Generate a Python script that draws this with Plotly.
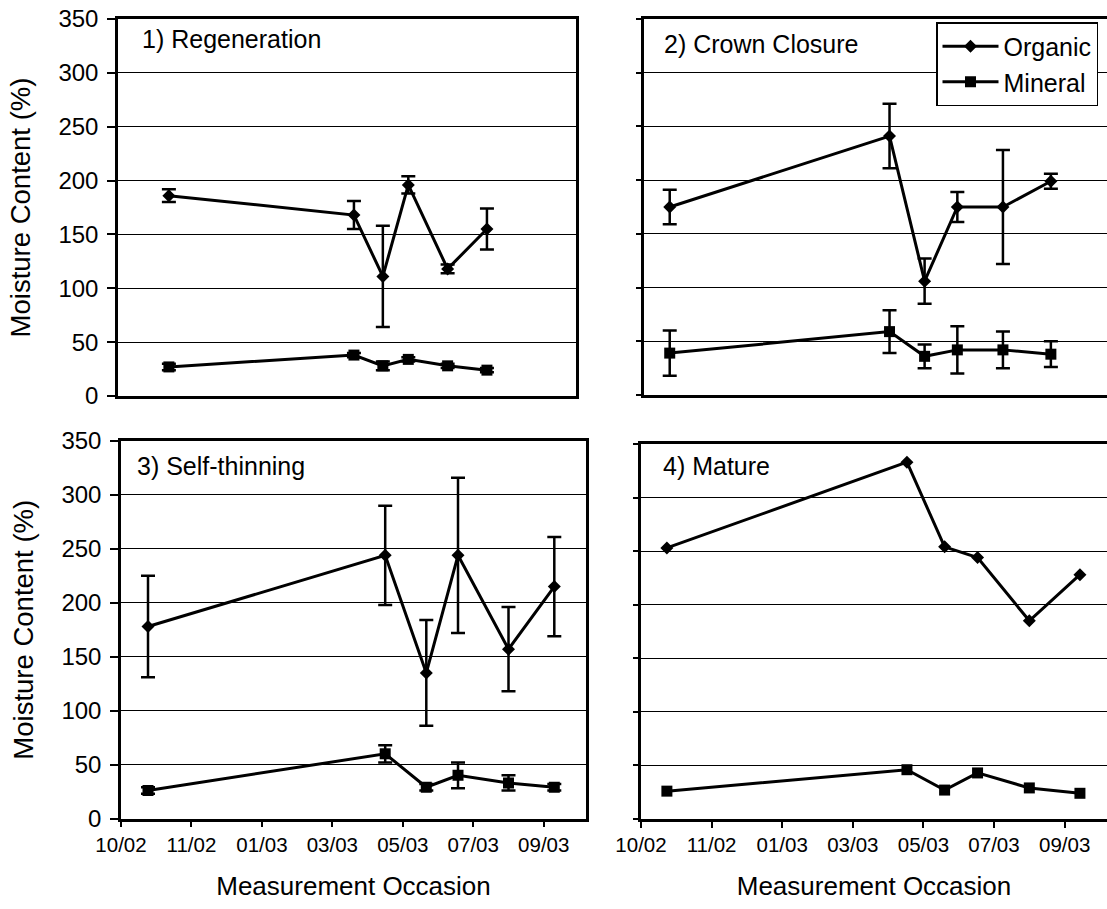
import plotly.graph_objects as go

W, H = 1107, 909

# Measurement dates and moisture content (%) for the four stand stages
p1_dates = ["2002-11-14", "2003-04-23", "2003-05-18", "2003-06-09", "2003-07-13", "2003-08-16"]
p1_org = [186, 168, 111, 196, 118, 155]
p1_org_err = [6, 13, 47, 8, 4, 19]
p1_min = [27, 38, 28, 34, 28, 24]
p1_min_err = [3, 2, 4, 2, 2, 2]

p2_dates = ["2002-10-23", "2003-04-29", "2003-05-29", "2003-06-26", "2003-08-04", "2003-09-14"]
p2_org = [175, 241, 106, 175, 175, 199]
p2_org_err = [16, 30, 21, 14, 53, 7]
p2_min = [39, 59, 36, 42, 42, 38]
p2_min_err = [21, 20, 11, 22, 17, 12]

p3_dates = ["2002-10-24", "2003-05-14", "2003-06-18", "2003-07-15", "2003-08-27", "2003-10-05"]
p3_org = [178, 244, 135, 244, 157, 215]
p3_org_err = [47, 46, 49, 72, 39, 46]
p3_min = [26, 60, 29, 40, 33, 29]
p3_min_err = [3, 8, 3, 12, 7, 3]

p4_dates = ["2002-10-23", "2003-05-15", "2003-06-16", "2003-07-14", "2003-08-27", "2003-10-09"]
p4_org = [253, 333, 254, 244, 185, 228]
p4_min = [26, 46, 27, 43, 29, 24]

panel_titles = ["1) Regeneration", "2) Crown Closure", "3) Self-thinning", "4) Mature"]
series_names = ["Organic", "Mineral"]
x_title = "Measurement Occasion"
y_title = "Moisture Content (%)"

FONT = "Liberation Sans, Arial, sans-serif"

# panel boxes in pixels: (left, right, top, bottom)
boxes = [(118, 576, 19, 396), (644, 1107, 19, 395), (121, 586, 441, 818.5), (641, 1107, 444, 819)]

panels = [
    (p1_dates, p1_org, p1_org_err, p1_min, p1_min_err),
    (p2_dates, p2_org, p2_org_err, p2_min, p2_min_err),
    (p3_dates, p3_org, p3_org_err, p3_min, p3_min_err),
    (p4_dates, p4_org, None, p4_min, None),
]

fig = go.Figure()

for i, (dates, org, org_err, mn, mn_err) in enumerate(panels):
    ax = "" if i == 0 else str(i + 1)
    show_leg = (i == 1)
    for name, vals, err, sym, msize in [
        (series_names[0], org, org_err, "diamond", 10),
        (series_names[1], mn, mn_err, "square", 11),
    ]:
        tr = dict(
            x=dates, y=vals, name=name, mode="lines+markers",
            line=dict(color="black", width=3),
            marker=dict(symbol=sym, size=msize, color="black"),
            xaxis="x" + ax, yaxis="y" + ax,
            showlegend=show_leg, legendgroup=name,
        )
        if err is not None:
            tr["error_y"] = dict(type="data", array=err, visible=True,
                                 color="black", thickness=2.5, width=7)
        fig.add_trace(go.Scatter(**tr))

layout = dict(
    width=W, height=H,
    margin=dict(l=0, r=0, t=0, b=0),
    paper_bgcolor="white", plot_bgcolor="white",
    font=dict(family=FONT, color="black"),
    legend=dict(
        x=936 / W, y=1 - 22 / H, xanchor="left", yanchor="top",
        bgcolor="white", bordercolor="black", borderwidth=1.5,
        font=dict(family=FONT, size=25, color="black"),
        tracegroupgap=0, itemwidth=56,
    ),
    annotations=[],
)

for i, (l, r, t, b) in enumerate(boxes):
    ax = "" if i == 0 else str(i + 1)
    bottom_row = i >= 2
    left_col = i % 2 == 0
    layout["xaxis" + ax] = dict(
        domain=[l / W, r / W], anchor="y" + ax,
        type="date", range=["2002-10-01", "2003-11-01"],
        tick0="2002-10-01", dtick=60 * 86400000, tickformat="%m/%y",
        showticklabels=bottom_row, ticks="outside" if bottom_row else "",
        ticklen=6, tickwidth=1.5, tickcolor="black",
        showgrid=False, showline=True, linecolor="black", linewidth=2.5, mirror=True,
        tickfont=dict(family=FONT, size=20.5, color="black"),
        title=dict(text=x_title if bottom_row else "",
                   font=dict(family=FONT, size=26, color="black"), standoff=22),
        automargin=False,
    )
    layout["yaxis" + ax] = dict(
        domain=[1 - b / H, 1 - t / H], anchor="x" + ax,
        range=[0, 350], dtick=50, tick0=0,
        showticklabels=left_col, ticks="outside", ticklen=8 if left_col else 5,
        tickwidth=1.5, tickcolor="black", ticklabelstandoff=4,
        showgrid=True, gridcolor="black", gridwidth=1, zeroline=False,
        showline=True, linecolor="black", linewidth=2.5, mirror=True,
        tickfont=dict(family=FONT, size=24, color="black"),
        title=dict(text=y_title if left_col else "",
                   font=dict(family=FONT, size=27.5, color="black"), standoff=20),
        automargin=False,
    )

# panel labels in the top-left corner of each box
label_pos = [(140, 39), (662, 44), (135, 466), (661, 466)]
for txt, (px, py) in zip(panel_titles, label_pos):
    layout["annotations"].append(dict(
        text=txt, x=px / W, y=1 - py / H, xref="paper", yref="paper",
        xanchor="left", yanchor="middle", showarrow=False,
        font=dict(family=FONT, size=25, color="black"),
    ))

fig.update_layout(**layout)
fig.write_html("out.html")
